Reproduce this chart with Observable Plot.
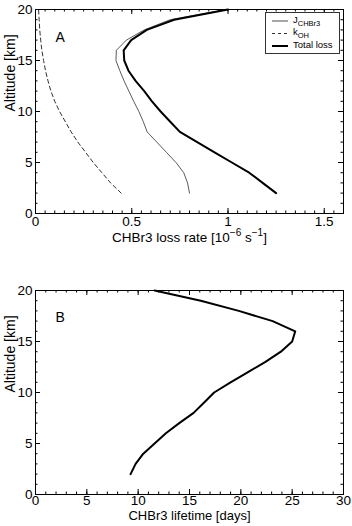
<!DOCTYPE html>
<html><head><meta charset="utf-8">
<script src="https://cdn.jsdelivr.net/npm/d3@7"></script>
<script src="https://cdn.jsdelivr.net/npm/@observablehq/plot@0.6"></script>
<style>
body{margin:0;background:#fff}
#chart{width:352px;height:526px;position:relative;background:#fff}
#chart svg{display:block}
</style>
</head><body><div id="chart"></div>
<script>
// ---- data ----
const altitude   = [2, 3, 4, 5, 6, 7, 8, 9, 10, 11, 12, 13, 14, 15, 16, 17, 18, 19, 20];
const jChbr3     = [0.80, 0.79, 0.77, 0.73, 0.68, 0.63, 0.58, 0.56, 0.537, 0.51, 0.485, 0.46, 0.438, 0.418, 0.42, 0.472, 0.565, 0.70, 0.99];
const kOH        = [0.445, 0.39, 0.345, 0.30, 0.26, 0.22, 0.185, 0.155, 0.125, 0.10, 0.08, 0.065, 0.052, 0.042, 0.033, 0.027, 0.022, 0.019, 0.016];
const totalLoss  = [1.25, 1.18, 1.11, 1.02, 0.93, 0.84, 0.75, 0.70, 0.65, 0.605, 0.565, 0.52, 0.483, 0.461, 0.458, 0.497, 0.578, 0.72, 1.0];
const lifetime   = [9.26, 9.75, 10.5, 11.6, 12.7, 14.0, 15.4, 16.4, 17.4, 19.0, 20.7, 22.4, 23.9, 25.0, 25.3, 23.1, 19.8, 16.1, 11.6];

const lossTicks  = [0, 0.5, 1, 1.5];
const lifeTicks  = [0, 5, 10, 15, 20, 25, 30];
const altTicks   = [0, 5, 10, 15, 20];
const lossDomain = [0, 1.6];
const lifeDomain = [0, 30];
const altDomain  = [0, 20];
const lossMinorStep = 0.05, lifeMinorStep = 1, altMinorStep = 1;

const legendLabels = ["J", "k", "Total loss"];
const legendSubs   = ["CHBr3", "OH", ""];

const FONT = "'Liberation Sans', Arial, Helvetica, sans-serif";
const W = 352, ML = 35, MR = 9;
const plotW = W - ML - MR, plotH = 204;

function minorTicks(domain, step) {
  const n = Math.round((domain[1] - domain[0]) / step);
  return d3.range(n + 1).map(i => +(domain[0] + i * step).toFixed(6));
}

function boxTicks(xMajor, xMinor, yMajor, yMinor) {
  const M = 5, m = 2.5, s = {stroke: "black", strokeWidth: 1};
  return [
    Plot.tickX(xMajor, {x: d => d, insetTop: plotH - M, ...s}),
    Plot.tickX(xMajor, {x: d => d, insetBottom: plotH - M, ...s}),
    Plot.tickX(xMinor, {x: d => d, insetTop: plotH - m, ...s}),
    Plot.tickX(xMinor, {x: d => d, insetBottom: plotH - m, ...s}),
    Plot.tickY(yMajor, {y: d => d, insetRight: plotW - M, ...s}),
    Plot.tickY(yMajor, {y: d => d, insetLeft: plotW - M, ...s}),
    Plot.tickY(yMinor, {y: d => d, insetRight: plotW - m, ...s}),
    Plot.tickY(yMinor, {y: d => d, insetLeft: plotW - m, ...s})
  ];
}

function richText(svg, placeholder, parts) {
  svg.querySelectorAll("text").forEach(t => {
    if (t.textContent !== placeholder) return;
    t.textContent = "";
    let shifted = 0;
    parts.forEach(([str, kind]) => {
      const ts = document.createElementNS("http://www.w3.org/2000/svg", "tspan");
      ts.textContent = str;
      let target = kind === "sup" ? -6 : kind === "sub" ? 3 : 0;
      if (target !== shifted) { ts.setAttribute("dy", target - shifted); shifted = target; }
      if (kind) ts.setAttribute("font-size", kind === "sup" ? "10" : "7.5");
      t.appendChild(ts);
    });
  });
}

const table = altitude.map((a, i) => ({alt: a, j: jChbr3[i], k: kOH[i], t: totalLoss[i], life: lifetime[i]}));

const X1LABEL = "@@xlabel1@@";

// ---------------- Panel A ----------------
const panelA = Plot.plot({
  width: W, height: 250,
  marginLeft: ML, marginRight: MR, marginTop: 9, marginBottom: 37,
  style: {fontFamily: FONT, fontSize: "13.5px", background: "white", color: "black", overflow: "visible"},
  x: {domain: lossDomain},
  y: {domain: altDomain},
  marks: [
    Plot.line(table, {x: "k", y: "alt", stroke: "#333", strokeWidth: 1, strokeDasharray: "4,3"}),
    Plot.line(table, {x: "j", y: "alt", stroke: "#5a5a5a", strokeWidth: 1}),
    Plot.line(table, {x: "t", y: "alt", stroke: "black", strokeWidth: 2}),
    Plot.frame({stroke: "black", strokeWidth: 1}),
    ...boxTicks(lossTicks, minorTicks(lossDomain, lossMinorStep), altTicks, minorTicks(altDomain, altMinorStep)),
    Plot.axisX({ticks: lossTicks, tickSize: 0, tickPadding: 3, tickFormat: d => String(d), label: null, fontSize: 13.5}),
    Plot.axisY({ticks: altTicks, tickSize: 0, tickPadding: 3, label: null, fontSize: 13.5}),
    Plot.text([X1LABEL], {text: d => d, frameAnchor: "bottom", dy: 28, fontSize: 13.5}),
    Plot.text(["Altitude [km]"], {text: d => d, frameAnchor: "left", dx: -25, rotate: -90, fontSize: 14}),
    Plot.text(["A"], {text: d => d, frameAnchor: "top-left", dx: 20, dy: 23, fontSize: 14})
  ]
});
richText(panelA, X1LABEL, [["CHBr3 loss rate [10", null], ["\u22126", "sup"], [" s", null], ["\u22121", "sup"], ["]", null]]);

// legend
{
  const g = d3.select(panelA).append("g")
    .attr("font-family", FONT).attr("font-size", 9.5).attr("text-anchor", "start");
  g.append("rect").attr("x", 265.5).attr("y", 12.5).attr("width", 74).attr("height", 41)
    .attr("fill", "white").attr("stroke", "#333").attr("stroke-width", 1);
  const rows = [
    {y: 21, stroke: "#888", sw: 1.5, dash: null},
    {y: 33.5, stroke: "#333", sw: 1, dash: "3,3"},
    {y: 46, stroke: "black", sw: 2, dash: null}
  ];
  rows.forEach((r, i) => {
    g.append("line").attr("x1", 272).attr("x2", 288).attr("y1", r.y).attr("y2", r.y)
      .attr("stroke", r.stroke).attr("stroke-width", r.sw).attr("stroke-dasharray", r.dash);
    const t = g.append("text").attr("x", 293).attr("y", r.y).attr("dy", "0.2em").attr("text-anchor", "start");
    t.append("tspan").text(legendLabels[i]);
    if (legendSubs[i]) t.append("tspan").attr("dy", 3).attr("font-size", 7.5).text(legendSubs[i]);
  });
}

// ---------------- Panel B ----------------
const X2LABEL = "CHBr3 lifetime [days]";
const panelB = Plot.plot({
  width: W, height: 276,
  marginLeft: ML, marginRight: MR, marginTop: 40, marginBottom: 32,
  style: {fontFamily: FONT, fontSize: "13.5px", background: "white", color: "black", overflow: "visible"},
  x: {domain: lifeDomain},
  y: {domain: altDomain},
  marks: [
    Plot.line(table, {x: "life", y: "alt", stroke: "black", strokeWidth: 2}),
    Plot.frame({stroke: "black", strokeWidth: 1}),
    ...boxTicks(lifeTicks, minorTicks(lifeDomain, lifeMinorStep), altTicks, minorTicks(altDomain, altMinorStep)),
    Plot.axisX({ticks: lifeTicks, tickSize: 0, tickPadding: 1, label: null, fontSize: 13.5}),
    Plot.axisY({ticks: altTicks, tickSize: 0, tickPadding: 3, label: null, fontSize: 13.5}),
    Plot.text([X2LABEL], {text: d => d, frameAnchor: "bottom", dy: 25, fontSize: 13}),
    Plot.text(["Altitude [km]"], {text: d => d, frameAnchor: "left", dx: -25, rotate: -90, fontSize: 14}),
    Plot.text(["B"], {text: d => d, frameAnchor: "top-left", dx: 20, dy: 22, fontSize: 14})
  ]
});

const chart = document.getElementById("chart");
chart.appendChild(panelA);
chart.appendChild(panelB);
</script>
</body></html>
